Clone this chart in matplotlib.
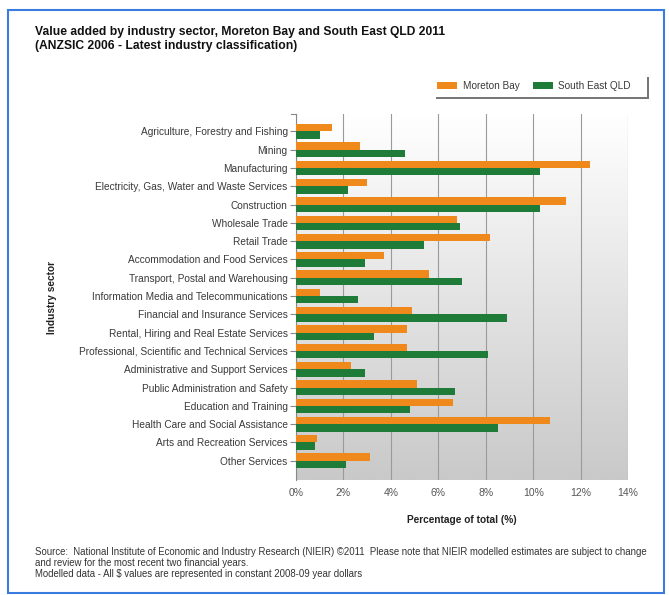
import numpy as np                                     #Arrays
import matplotlib                                      #Backend selection
matplotlib.use("Agg")                                  #No display available
import matplotlib.pyplot as plt                        #To plot stuff
from matplotlib.patches import Rectangle               #Border and legend box
#-----------------#
#--- Chart data ---#
#-----------------#
sectors = ["Agriculture, Forestry and Fishing", "Mining", "Manufacturing",
           "Electricity, Gas, Water and Waste Services", "Construction",
           "Wholesale Trade", "Retail Trade", "Accommodation and Food Services",
           "Transport, Postal and Warehousing", "Information Media and Telecommunications",
           "Financial and Insurance Services", "Rental, Hiring and Real Estate Services",
           "Professional, Scientific and Technical Services", "Administrative and Support Services",
           "Public Administration and Safety", "Education and Training",
           "Health Care and Social Assistance", "Arts and Recreation Services", "Other Services"]
moreton_bay = [1.5, 2.7, 12.4, 3.0, 11.4, 6.8, 8.2, 3.7, 5.6, 1.0,
               4.9, 4.7, 4.7, 2.3, 5.1, 6.6, 10.7, 0.9, 3.1]
seq = [1.0, 4.6, 10.3, 2.2, 10.3, 6.9, 5.4, 2.9, 7.0, 2.6,
       8.9, 3.3, 8.1, 2.9, 6.7, 4.8, 8.5, 0.8, 2.1]
x_ticks = [0, 2, 4, 6, 8, 10, 12, 14]
x_tick_labels = ["0%", "2%", "4%", "6%", "8%", "10%", "12%", "14%"]
series_names = ["Moreton Bay", "South East QLD"]
#--- Styles ---#
ORANGE = "#F0891C"
GREEN = "#1E7B38"
TXT = "#3A3A3A"
plt.rcParams["font.family"] = ["Liberation Sans", "DejaVu Sans"]
#--------------------#
#--- Build figure ---#
#--------------------#
fig = plt.figure(figsize=(6.69, 5.95), dpi=100)
fig.patch.set_facecolor("white")
W, H = 669.0, 595.0                                    #Pixel size, used for placing
ax = fig.add_axes([296 / W, 1 - 480 / H, 332 / W, 366 / H])
#--- Gradient background (white top -> gray bottom) ---#
grad = np.linspace(0, 1, 256).reshape(-1, 1)
ax.imshow(grad, aspect="auto", cmap=matplotlib.colors.LinearSegmentedColormap.from_list(
    "bg", ["#FFFFFF", "#C9C9C9"]), extent=[0, 1, 0, 1], transform=ax.transAxes, zorder=0)
#--- Bars ---#
pos = np.arange(len(sectors))
h = 0.4
ax.barh(pos - h / 2, moreton_bay, height=h, color=ORANGE, zorder=3, label=series_names[0])
ax.barh(pos + h / 2, seq, height=h, color=GREEN, zorder=3, label=series_names[1])
#--- Axes setup ---#
ax.set_xlim(0, 14)
ax.set_ylim(len(sectors) - 1 + 1.05, -0.95)
ax.set_xticks(x_ticks)
ax.set_xticklabels(x_tick_labels, fontsize=7.5, color="#555555")
ax.set_yticks(pos)
ax.set_yticklabels(sectors, fontsize=7.3, color=TXT)
ax.tick_params(axis="x", length=0, pad=6)
ax.tick_params(axis="y", length=4, width=0.8, color="#888888", pad=2)
ax.grid(axis="x", color="#9A9A9A", linewidth=0.8, zorder=1)
for s in ["top", "right", "bottom"]:
    ax.spines[s].set_visible(False)
ax.spines["left"].set_color("#888888")
ax.spines["left"].set_linewidth(0.8)
ax.plot([-0.014, 0], [1, 1], transform=ax.transAxes, color="#888888", lw=0.8, clip_on=False)
ax.set_xlabel("Percentage of total (%)", fontsize=7.3, fontweight="bold", color="#222222", labelpad=12)
fig.text(52 / W, 1 - 298 / H, "Industry sector", rotation=90, fontsize=7.3, fontweight="bold",
         color="#222222", ha="center", va="center")
#-------------#
#--- Texts ---#
#-------------#
fig.text(35 / W, 1 - 32 / H, "Value added by industry sector, Moreton Bay and South East QLD 2011",
         fontsize=8.7, fontweight="bold", color="#111111", va="center")
fig.text(35 / W, 1 - 46 / H, "(ANZSIC 2006 - Latest industry classification)",
         fontsize=8.7, fontweight="bold", color="#111111", va="center")
foot = ["Source:  National Institute of Economic and Industry Research (NIEIR) \u00a92011  Please note that NIEIR modelled estimates are subject to change",
        "and review for the most recent two financial years.",
        "Modelled data - All $ values are represented in constant 2008-09 year dollars"]
for i, line in enumerate(foot):
    fig.text(35 / W, 1 - (552 + i * 11) / H, line, fontsize=6.9, color="#333333", va="center")
#--------------#
#--- Legend ---#
#--------------#
fig.patches.append(Rectangle((436 / W, 1 - 99 / H), 213 / W, 22 / H, transform=fig.transFigure,
                             facecolor="#777777", edgecolor="none", zorder=1))
fig.patches.append(Rectangle((434 / W, 1 - 97 / H), 213 / W, 22 / H, transform=fig.transFigure,
                             facecolor="white", edgecolor="none", zorder=2))
fig.patches.append(Rectangle((437 / W, 1 - 89 / H), 20 / W, 7 / H, transform=fig.transFigure,
                             facecolor=ORANGE, edgecolor="none", zorder=3))
fig.text(463 / W, 1 - 86 / H, series_names[0], fontsize=7.2, color=TXT, va="center", zorder=4)
fig.patches.append(Rectangle((533 / W, 1 - 89 / H), 20 / W, 7 / H, transform=fig.transFigure,
                             facecolor=GREEN, edgecolor="none", zorder=3))
fig.text(558 / W, 1 - 86 / H, series_names[1], fontsize=7.2, color=TXT, va="center", zorder=4)
#--- Blue frame ---#
fig.patches.append(Rectangle((8 / W, 1 - 593 / H), 656 / W, 583 / H, transform=fig.transFigure,
                             facecolor="none", edgecolor="#3A7BE0", linewidth=1.5, zorder=5))
fig.savefig("out.png", dpi=100)
